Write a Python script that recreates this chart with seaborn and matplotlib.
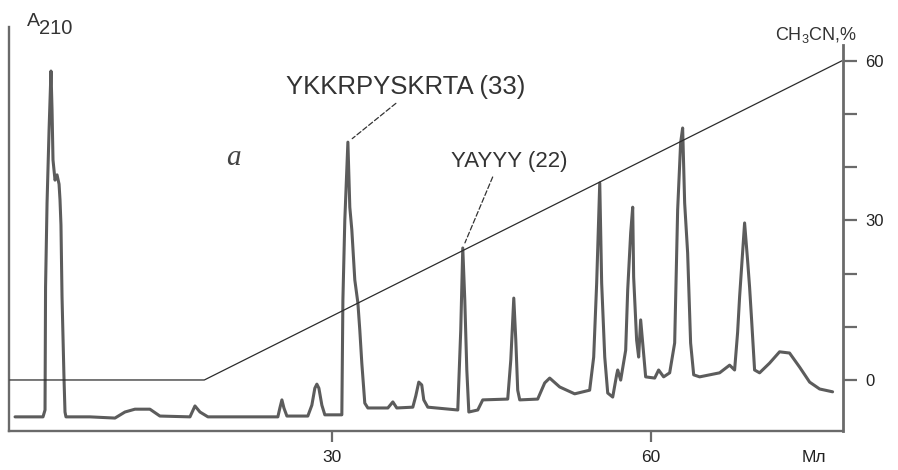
import numpy as np
import pandas as pd
import matplotlib
matplotlib.use("Agg")
import matplotlib.pyplot as plt
import seaborn as sns

# Chromatogram trace: retention time (min) and A210 (relative units)
time_min = [0.19, 2.82, 3.01, 3.06, 3.20, 3.39, 3.57, 3.67, 3.76, 3.95, 4.14, 4.33,
            4.42, 4.51, 4.61, 4.80, 4.89, 4.98, 7.24, 9.59, 10.53, 11.47, 12.88, 13.82,
            16.65, 17.12, 17.59, 18.34, 24.92, 25.11, 25.30, 25.49, 25.77, 27.74, 28.12,
            28.40, 28.59, 28.78, 29.06, 29.34, 30.94, 31.04, 31.22, 31.51, 31.69, 31.88,
            32.16, 32.45, 32.63, 32.82, 33.10, 33.39, 35.27, 35.74, 36.11, 37.62, 37.90,
            38.18, 38.46, 38.65, 39.03, 41.85, 42.13, 42.32, 42.51, 42.70, 42.89, 43.73,
            44.20, 46.55, 46.84, 47.12, 47.31, 47.49, 47.68, 49.37, 50.03, 50.50, 51.44,
            52.85, 54.26, 54.64, 54.92, 55.21, 55.39, 55.68, 55.96, 56.43, 56.80, 56.90,
            57.18, 57.65, 57.84, 58.12, 58.31, 58.40, 58.68, 58.87, 59.06, 59.25, 59.53,
            60.38, 60.75, 61.22, 61.79, 62.26, 62.54, 62.82, 63.01, 63.20, 63.48, 63.76,
            64.05, 64.61, 66.49, 67.43, 67.90, 68.18, 68.37, 68.56, 68.84, 69.12, 69.31,
            69.50, 69.78, 70.25, 71.19, 72.13, 73.07, 74.02, 74.96, 75.90, 77.12]
a210 = [0.035, 0.035, 0.052, 0.356, 0.564, 0.745, 0.891, 0.795, 0.671, 0.621, 0.634, 0.611,
        0.572, 0.510, 0.332, 0.126, 0.047, 0.035, 0.035, 0.032, 0.047, 0.054, 0.054, 0.037,
        0.035, 0.062, 0.047, 0.035, 0.035, 0.057, 0.077, 0.057, 0.037, 0.037, 0.064,
        0.106, 0.116, 0.106, 0.064, 0.040, 0.040, 0.324, 0.522, 0.715, 0.554, 0.498,
        0.374, 0.317, 0.250, 0.168, 0.069, 0.057, 0.057, 0.072, 0.057, 0.059, 0.087,
        0.121, 0.114, 0.077, 0.059, 0.052, 0.250, 0.453, 0.324, 0.151, 0.047, 0.052,
        0.077, 0.079, 0.176, 0.329, 0.225, 0.101, 0.077, 0.079, 0.119, 0.131, 0.109,
        0.092, 0.101, 0.183, 0.366, 0.614, 0.366, 0.183, 0.094, 0.084, 0.139, 0.151,
        0.126, 0.200, 0.349, 0.490, 0.554, 0.381, 0.225, 0.183, 0.275, 0.218, 0.134,
        0.131, 0.151, 0.134, 0.144, 0.218, 0.547, 0.713, 0.750, 0.564, 0.441, 0.218,
        0.139, 0.134, 0.144, 0.163, 0.151, 0.243, 0.332, 0.406, 0.515, 0.423, 0.356,
        0.275, 0.151, 0.144, 0.168, 0.196, 0.193, 0.158, 0.121, 0.104, 0.097]

# Acetonitrile gradient program
gradient_time = [-0.3, 18, 78]
gradient_pct = [0, 0, 60]

# Identified peptides
peak_labels = ["YKKRPYSKRTA (33)", "YAYYY (22)"]
peak_times = [31.51, 42.32]

x_ticks = [30, 60]
x_ticklabels = ["30", "60"]
pct_ticks = [0, 10, 20, 30, 40, 50, 60]
pct_ticklabels = ["0", "", "", "30", "", "", "60"]

sns.set_theme(style="white")
plt.rcParams["font.family"] = ["Liberation Sans", "DejaVu Sans"]

W, H = 898, 470
fig = plt.figure(figsize=(W / 100, H / 100), dpi=100)
fig.patch.set_facecolor("white")
ax = fig.add_axes([9 / W, 39 / H, 834 / W, 404 / H])
ax.set_facecolor("white")

spine_col = "#6a6a6a"
trace_col = "#5c5c5c"

trace = pd.DataFrame({"time": time_min, "a210": a210})
sns.lineplot(data=trace, x="time", y="a210", ax=ax, sort=False, estimator=None,
             color=trace_col, linewidth=2.2)

ax.set_xlim(-0.38, 78.1)
ax.set_ylim(0, 1)
ax.set_xlabel("")
ax.set_ylabel("")
ax.set_yticks([])
ax.set_xticks(x_ticks)
ax.set_xticklabels(x_ticklabels)
ax.tick_params(axis="x", direction="out", length=8, width=1.6, color=spine_col,
               labelsize=12.5, pad=6, labelcolor="#222222", bottom=True)
for side in ["top", "right"]:
    ax.spines[side].set_visible(False)
for side in ["left", "bottom"]:
    ax.spines[side].set_color(spine_col)
    ax.spines[side].set_linewidth(1.7)

# Gradient on the right-hand axis
ax2 = ax.twinx()
grad = pd.DataFrame({"time": gradient_time, "pct": gradient_pct})
sns.lineplot(data=grad, x="time", y="pct", ax=ax2, color="#2b2b2b", linewidth=0.9)
ax2.set_ylim(-9.59, 66.35)
ax2.set_xlim(-0.38, 78.1)
ax2.set_xlabel("")
ax2.set_ylabel("")
ax2.set_yticks(pct_ticks)
ax2.set_yticklabels(pct_ticklabels)
ax2.tick_params(axis="y", direction="out", length=10, width=1.6, color=spine_col,
                labelsize=12, pad=6, labelcolor="#222222", right=True)
for side in ["top", "left", "bottom"]:
    ax2.spines[side].set_visible(False)
ax2.spines["right"].set_color(spine_col)
ax2.spines["right"].set_linewidth(2.0)
ax2.spines["right"].set_bounds(-9.59, 63.0)

# Peak annotations with dashed leaders
peak_heights = np.interp(peak_times, time_min, a210)
label_pos = [(36.96, 0.851), (46.74, 0.666)]
label_size = [18.5, 16]
rel = [(0.48, 0.0), (0.37, 0.0)]
for name, t, h, pos, fs, rp in zip(peak_labels, peak_times, peak_heights,
                                   label_pos, label_size, rel):
    ax.annotate(name, xy=(t, h), xytext=pos, ha="center", va="center",
                fontsize=fs, color="#333333",
                arrowprops=dict(arrowstyle="-", color="#333333", lw=0.9,
                                linestyle=(0, (4, 2)), relpos=rp,
                                shrinkA=1, shrinkB=4))

# Axis captions
fig.text(27 / W, 1 - 26 / H, "A", fontsize=14, color="#333333", ha="left", va="baseline")
fig.text(39 / W, 1 - 34 / H, "210", fontsize=14.5, color="#333333", ha="left", va="baseline")
fig.text(816 / W, 1 - 35 / H, r"CH$_{\mathregular{3}}$CN,%", fontsize=13,
         color="#333333", ha="center", va="center")
fig.text(814 / W, 1 - 458 / H, "Мл", fontsize=12.5, color="#222222",
         ha="center", va="center")
fig.text(233 / W, 1 - 158 / H, "a", fontsize=21, color="#444444", style="italic",
         family=["Liberation Serif", "DejaVu Serif"], ha="center", va="center")

fig.savefig("out.png", dpi=100, facecolor="white")
